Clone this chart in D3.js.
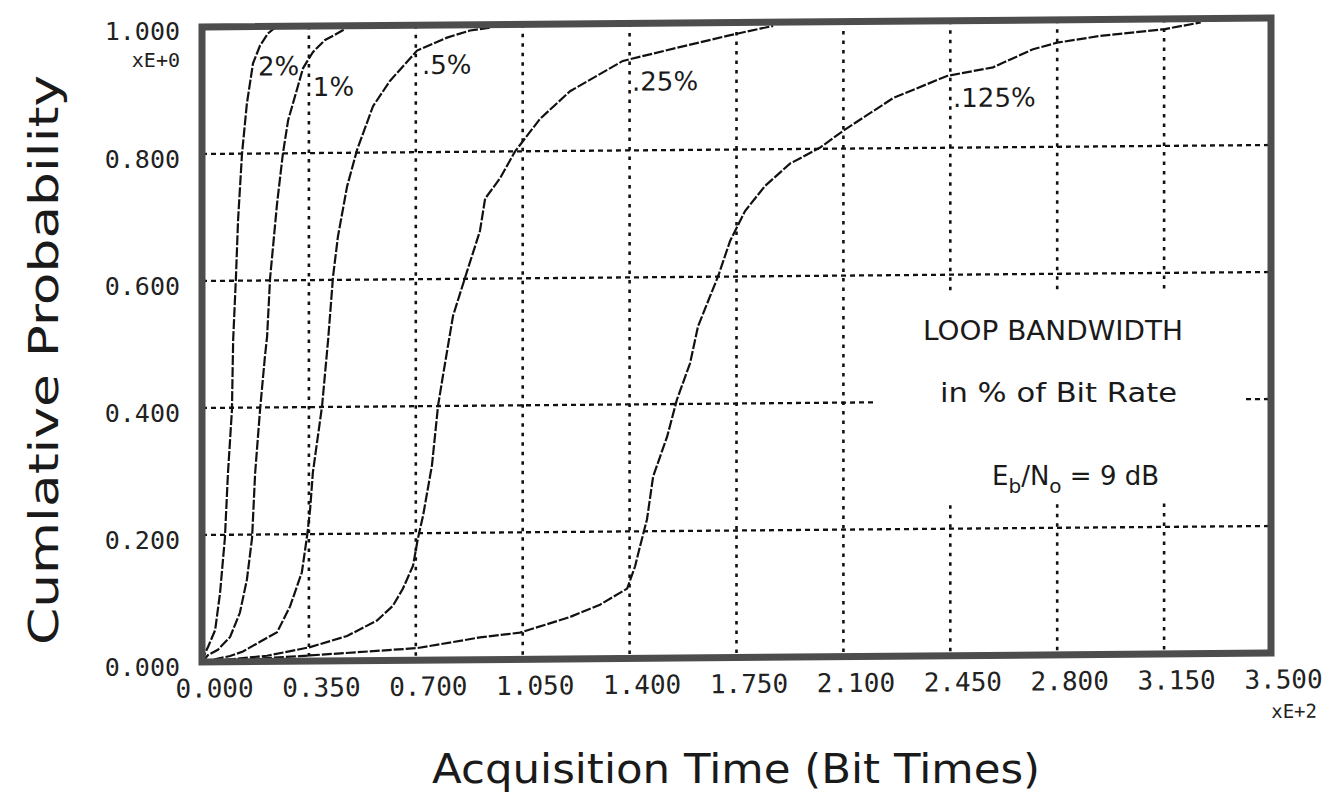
<!DOCTYPE html>
<head>
  <title>Cumulative Probability of Acquisition Time</title>
  <style>
    body { margin: 0; background: #fff; }
    svg { display: block; }
  </style>
</head>
<body>
  <script src="https://d3js.org/d3.v7.min.js"></script>
  <script>
    // acquisition time (x 100 bit times) vs cumulative probability
    var curve2 = [[0,0],[0.010,0.014],[0.020,0.024],[0.043,0.050],[0.059,0.108],[0.075,0.195],[0.085,0.297],
      [0.098,0.396],[0.102,0.506],[0.111,0.604],[0.118,0.695],[0.131,0.800],[0.147,0.879],[0.167,0.942],
      [0.190,0.970],[0.216,0.989],[0.239,0.998]];
    var curve1 = [[0,0],[0.020,0.011],[0.052,0.019],[0.092,0.039],[0.124,0.077],[0.147,0.129],[0.164,0.195],
      [0.174,0.297],[0.190,0.396],[0.206,0.480],[0.213,0.511],[0.223,0.604],[0.246,0.722],[0.265,0.800],
      [0.282,0.852],[0.331,0.934],[0.363,0.959],[0.403,0.978],[0.435,0.986],[0.468,0.995]];
    var curve05 = [[0,0],[0.092,0.009],[0.134,0.016],[0.190,0.031],[0.246,0.046],[0.288,0.086],[0.327,0.140],
      [0.344,0.197],[0.354,0.239],[0.363,0.297],[0.393,0.401],[0.413,0.506],[0.429,0.605],[0.445,0.668],
      [0.475,0.747],[0.508,0.805],[0.560,0.873],[0.616,0.913],[0.704,0.960],[0.802,0.980],[0.878,0.991],[0.943,0.995]];
    var curve025 = [[0,0],[0.213,0.009],[0.354,0.022],[0.475,0.039],[0.573,0.063],[0.625,0.086],[0.658,0.113],
      [0.691,0.149],[0.707,0.192],[0.724,0.228],[0.753,0.307],[0.773,0.401],[0.789,0.448],[0.822,0.542],
      [0.868,0.612],[0.910,0.675],[0.927,0.726],[0.976,0.758],[1.025,0.800],[1.107,0.851],[1.205,0.894],
      [1.378,0.941],[1.555,0.961],[1.719,0.979],[1.827,0.990],[1.870,0.994]];
    var curve0125 = [[0,0],[0.321,0.008],[0.704,0.019],[0.910,0.035],[1.041,0.042],[1.205,0.066],[1.303,0.085],
      [1.392,0.110],[1.418,0.145],[1.434,0.176],[1.457,0.219],[1.477,0.286],[1.523,0.349],[1.555,0.407],
      [1.598,0.464],[1.624,0.522],[1.690,0.601],[1.729,0.656],[1.778,0.703],[1.843,0.742],[1.925,0.777],
      [2.024,0.802],[2.099,0.828],[2.263,0.879],[2.439,0.913],[2.590,0.926],[2.721,0.954],[2.800,0.964],
      [2.940,0.974],[3.153,0.984],[3.270,0.994]];

    var curves = [curve2, curve1, curve05, curve025, curve0125];
    var curveNames = ["2%", "1%", ".5%", ".25%", ".125%"];
    // where each name sits (time, probability)
    var nameAt = [[0.183, 0.923], [0.363, 0.890], [0.720, 0.923], [1.408, 0.894], [2.459, 0.864]];

    var xTicks = [0, 0.35, 0.7, 1.05, 1.4, 1.75, 2.1, 2.45, 2.8, 3.15, 3.5];
    var yTicks = [0, 0.2, 0.4, 0.6, 0.8, 1.0];

    var L = 202, R = 1271, T = 27, B = 662;
    var skew = -Math.atan(9 / (R - L)) * 180 / Math.PI; // scanned page is slightly sheared

    var svg = d3.select("body").append("svg")
        .attr("width", 1340)
        .attr("height", 804);

    var x = d3.scaleLinear().domain([0, 3.5]).range([L, R]);
    var y = d3.scaleLinear().domain([0, 1]).range([B, T]);

    var plot = svg.append("g")
        .attr("transform", "translate(" + L + ",0) skewY(" + skew + ") translate(" + (-L) + ",0)");

    // grid
    plot.selectAll(".hgrid")
        .data(yTicks.filter(d => d > 0 && d < 1))
        .enter().append("line")
        .attr("x1", L).attr("x2", R)
        .attr("y1", d => y(d)).attr("y2", d => y(d))
        .style("stroke", "#111")
        .style("stroke-width", 2.3)
        .style("stroke-dasharray", "5,4");

    plot.selectAll(".vgrid")
        .data(xTicks.filter(d => d > 0 && d < 3.5))
        .enter().append("line")
        .attr("x1", d => x(d)).attr("x2", d => x(d))
        .attr("y1", T).attr("y2", B)
        .style("stroke", "#111")
        .style("stroke-width", 2.6)
        .style("stroke-dasharray", "3.5,6");

    // the grid is left out behind the legend text
    plot.append("rect")
        .attr("x", 877).attr("y", 298)
        .attr("width", 369).attr("height", 212)
        .style("fill", "#fff");

    // curves
    var line = d3.line()
        .x(d => x(d[0]))
        .y(d => y(d[1]));

    plot.selectAll(".curve")
        .data(curves)
        .enter().append("path")
        .attr("d", line)
        .style("fill", "none")
        .style("stroke", "#111")
        .style("stroke-width", 2.2)
        .style("stroke-dasharray", "10,2");

    plot.selectAll(".cname")
        .data(curveNames)
        .enter().append("text")
        .attr("x", (d, i) => x(nameAt[i][0]))
        .attr("y", (d, i) => y(nameAt[i][1]))
        .style("font-family", "DejaVu Sans")
        .style("font-size", "26px")
        .style("fill", "#1a1a1a")
        .text(d => d);

    // frame
    plot.append("rect")
        .attr("x", L).attr("y", T)
        .attr("width", R - L).attr("height", B - T)
        .style("fill", "none")
        .style("stroke", "#4d4d4d")
        .style("stroke-width", 7);

    // x axis labels
    var xAxis = plot.append("g")
        .attr("transform", "translate(0," + B + ")")
        .call(d3.axisBottom(x).tickValues(xTicks).tickFormat(d3.format(".3f")).tickSize(0).tickPadding(17));
    xAxis.select(".domain").remove();
    xAxis.selectAll("text")
        .attr("dx", 12)
        .style("font-family", "DejaVu Sans Mono")
        .style("font-size", "26px")
        .style("fill", "#222");

    plot.append("text")
        .attr("x", x(3.5) + 46)
        .attr("y", B + 65)
        .attr("text-anchor", "end")
        .style("font-family", "DejaVu Sans Mono")
        .style("font-size", "19px")
        .style("fill", "#222")
        .text("xE+2");

    // y axis labels
    var yAxis = svg.append("g")
        .attr("transform", "translate(" + L + ",0)")
        .call(d3.axisLeft(y).tickValues(yTicks).tickFormat(d3.format(".3f")).tickSize(0).tickPadding(22));
    yAxis.select(".domain").remove();
    yAxis.selectAll("text")
        .attr("dy", d => d === 1 ? "0.5em" : "0.55em")
        .style("font-family", "DejaVu Sans Mono")
        .style("font-size", "25px")
        .style("fill", "#222");

    svg.append("text")
        .attr("x", L - 22)
        .attr("y", y(1) + 40)
        .attr("text-anchor", "end")
        .style("font-family", "DejaVu Sans Mono")
        .style("font-size", "20px")
        .style("fill", "#222")
        .text("xE+0");

    // legend text
    var legend = svg.append("g")
        .style("font-family", "DejaVu Sans")
        .style("fill", "#1a1a1a");

    legend.append("text")
        .attr("x", 923).attr("y", 340)
        .attr("textLength", 260).attr("lengthAdjust", "spacingAndGlyphs")
        .style("font-size", "26px")
        .text("LOOP BANDWIDTH");

    legend.append("text")
        .attr("x", 940).attr("y", 402)
        .attr("textLength", 237).attr("lengthAdjust", "spacingAndGlyphs")
        .style("font-size", "26px")
        .text("in % of Bit Rate");

    var eb = legend.append("text")
        .attr("x", 992).attr("y", 485)
        .style("font-size", "26px");
    eb.append("tspan").text("E");
    eb.append("tspan").attr("dy", 8).style("font-size", "20px").text("b");
    eb.append("tspan").attr("dy", -8).text("/N");
    eb.append("tspan").attr("dy", 8).style("font-size", "20px").text("o");
    eb.append("tspan").attr("dy", -8).text(" = 9 dB");

    // axis titles
    svg.append("text")
        .attr("x", 432).attr("y", 783)
        .attr("textLength", 608).attr("lengthAdjust", "spacingAndGlyphs")
        .style("font-family", "DejaVu Sans")
        .style("font-size", "40px")
        .style("fill", "#1a1a1a")
        .text("Acquisition Time (Bit Times)");

    svg.append("text")
        .attr("transform", "translate(58,645) rotate(-90)")
        .attr("textLength", 570).attr("lengthAdjust", "spacingAndGlyphs")
        .style("font-family", "DejaVu Sans")
        .style("font-size", "40px")
        .style("fill", "#1a1a1a")
        .text("Cumlative Probability");
  </script>
</body>
</html>
